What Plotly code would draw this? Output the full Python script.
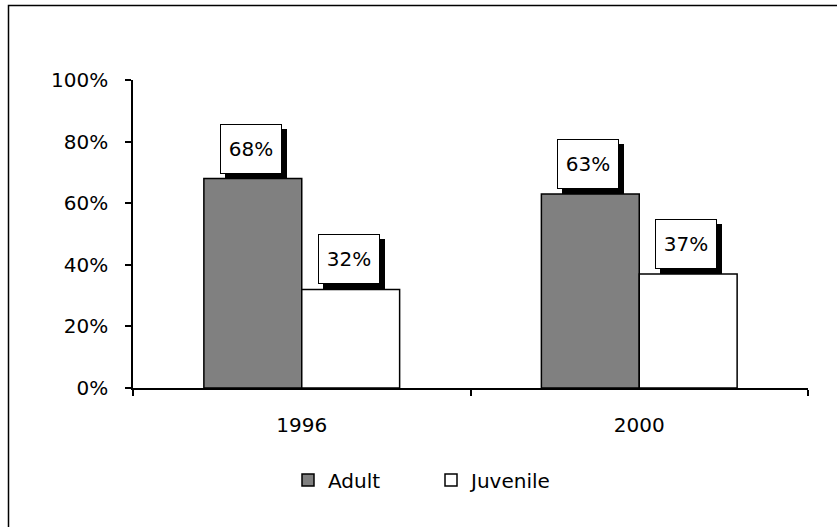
import plotly.graph_objects as go

years = ["1996", "2000"]
adult = [68, 63]
juvenile = [32, 37]
series_names = ["Adult", "Juvenile"]
y_tick_vals = [0, 20, 40, 60, 80, 100]
y_tick_text = ["0%", "20%", "40%", "60%", "80%", "100%"]

FONT = "DejaVu Sans"
W, H = 837, 527
ML, MT = 133, 80
PR, PB = 808, 388
MR, MB = W - PR, H - PB
PW, PH = PR - ML, PB - MT

fig = go.Figure()
fig.add_trace(go.Bar(x=years, y=adult, name=series_names[0],
                     marker=dict(color="#808080", line=dict(color="black", width=1.5))))
fig.add_trace(go.Bar(x=years, y=juvenile, name=series_names[1],
                     marker=dict(color="white", line=dict(color="black", width=1.5))))

cat_px = PW / len(years)
bar_px = cat_px * 0.29
annotations = []
for series, sign in ((adult, -1), (juvenile, 1)):
    for idx, v in enumerate(series):
        xs = sign * bar_px / 2 - 2
        annotations.append(dict(x=idx, y=v, xref="x", yref="y", text=" ", showarrow=False,
                                xanchor="center", yanchor="bottom", xshift=xs + 5, yshift=0,
                                width=58, height=46, bgcolor="black", borderwidth=1,
                                bordercolor="black", borderpad=1,
                                font=dict(family=FONT, size=20, color="black")))
        annotations.append(dict(x=idx, y=v, xref="x", yref="y", text=f"{v}%", showarrow=False,
                                xanchor="center", yanchor="bottom", xshift=xs, yshift=5,
                                width=58, height=46, bgcolor="white", borderwidth=1,
                                bordercolor="black", borderpad=1,
                                font=dict(family=FONT, size=20, color="black")))

fig.update_layout(
    width=W, height=H,
    margin=dict(l=ML, r=MR, t=MT, b=MB),
    paper_bgcolor="white", plot_bgcolor="white",
    barmode="group", bargap=0.42, bargroupgap=0,
    font=dict(family=FONT, size=20, color="black"),
    showlegend=True,
    legend=dict(orientation="h", x=(288 - ML) / PW, y=(PB - 480) / PH,
                xanchor="left", yanchor="middle", font=dict(size=20),
                entrywidth=98, itemwidth=30, bgcolor="rgba(0,0,0,0)"),
    annotations=annotations,
    shapes=[dict(type="rect", xref="paper", yref="paper",
                 x0=(8.5 - ML) / PW, x1=2, y0=-2, y1=(PB - 5.5) / PH,
                 line=dict(color="black", width=1.5), fillcolor="rgba(0,0,0,0)", layer="below")],
)
fig.update_xaxes(showline=True, linecolor="black", linewidth=1.5, showgrid=False,
                 ticks="outside", tickson="boundaries", ticklen=6, tickcolor="black",
                 tickwidth=1.5, tickfont=dict(size=20), range=[-0.5, 1.5],
                 ticklabelstandoff=18)
fig.update_yaxes(range=[0, 100], tickvals=y_tick_vals, ticktext=y_tick_text,
                 showline=True, linecolor="black", linewidth=1.5, showgrid=False,
                 ticks="outside", ticklen=6, tickcolor="black", tickwidth=1.5,
                 tickfont=dict(size=20), zeroline=False, ticklabelstandoff=13)

fig.write_html("out.html", config={"displayModeBar": False},
               post_script="document.body.style.margin='0';document.body.style.overflow='hidden';")
